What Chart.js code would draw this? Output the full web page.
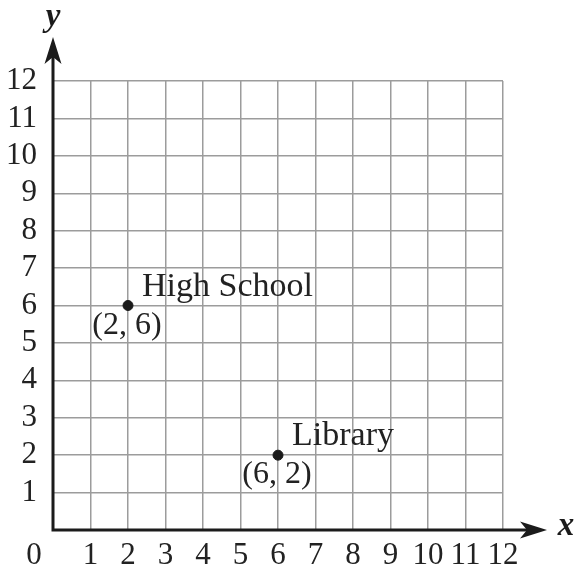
<!DOCTYPE html>
<html>
<head>
<meta charset="utf-8">
<script src="https://cdn.jsdelivr.net/npm/chart.js@4/dist/chart.umd.min.js"></script>
<style>
  html, body { margin: 0; padding: 0; background: #fff; }
  canvas { display: block; }
</style>
</head>
<body>
<canvas id="map" width="577" height="571"></canvas>
<script>
  const axisMin = 0;
  const axisMax = 12;
  const places = ["High School", "Library"];
  const placeX = [2, 6];
  const placeY = [6, 2];

  const serif = "'Liberation Serif', 'DejaVu Serif', serif";
  const ink = "#1b1b1b";
  const gridGray = "#9c9c9c";

  const tickFont = { family: serif, size: 31 };
  const hideZero = (value) => (value === 0 ? "" : value);

  // axes with arrowheads, axis letters and the shared origin label
  const axesPlugin = {
    id: "axes",
    beforeDatasetsDraw(chart) {
      const { ctx, scales } = chart;
      const x0 = scales.x.getPixelForValue(0);
      const y0 = scales.y.getPixelForValue(0);
      const tipX = scales.x.getPixelForValue(axisMax) + 44;
      const tipY = scales.y.getPixelForValue(axisMax) - 44;

      ctx.save();
      ctx.strokeStyle = ink;
      ctx.fillStyle = ink;
      ctx.lineWidth = 3;
      ctx.lineCap = "butt";

      ctx.beginPath();
      ctx.moveTo(x0 - 1.5, y0);
      ctx.lineTo(tipX - 20, y0);
      ctx.moveTo(x0, y0 + 1.5);
      ctx.lineTo(x0, tipY + 20);
      ctx.stroke();

      ctx.beginPath();
      ctx.moveTo(tipX, y0);
      ctx.lineTo(tipX - 27, y0 - 8.5);
      ctx.lineTo(tipX - 20, y0);
      ctx.lineTo(tipX - 27, y0 + 8.5);
      ctx.closePath();
      ctx.fill();

      ctx.beginPath();
      ctx.moveTo(x0, tipY);
      ctx.lineTo(x0 - 8.5, tipY + 27);
      ctx.lineTo(x0, tipY + 20);
      ctx.lineTo(x0 + 8.5, tipY + 27);
      ctx.closePath();
      ctx.fill();

      ctx.textAlign = "center";
      ctx.textBaseline = "middle";
      ctx.font = `bold italic 33px ${serif}`;
      ctx.fillText("x", tipX + 19, y0 - 4);
      ctx.fillText("y", x0, tipY - 20);

      ctx.font = `31px ${serif}`;
      ctx.fillStyle = "#222";
      ctx.fillText("0", x0 - 19, y0 + 26);
      ctx.restore();
    },
    afterDatasetsDraw(chart) {
      const { ctx } = chart;
      const meta = chart.getDatasetMeta(0);
      ctx.save();
      ctx.fillStyle = "#222";
      meta.data.forEach((pt, i) => {
        ctx.font = `34px ${serif}`;
        ctx.textAlign = "left";
        ctx.textBaseline = "alphabetic";
        ctx.fillText(places[i], pt.x + 14, pt.y - 10);
        ctx.font = `32px ${serif}`;
        ctx.textAlign = "center";
        ctx.fillText(`(${placeX[i]}, ${placeY[i]})`, pt.x - 1, pt.y + 28);
      });
      ctx.restore();
    },
  };

  new Chart(document.getElementById("map"), {
    type: "scatter",
    data: {
      datasets: [
        {
          data: placeX.map((x, i) => ({ x, y: placeY[i] })),
          backgroundColor: ink,
          borderColor: ink,
          pointRadius: 5,
          pointHoverRadius: 5,
        },
      ],
    },
    options: {
      responsive: false,
      animation: false,
      events: [],
      layout: { padding: { top: 81, right: 74, left: 0, bottom: 0 } },
      plugins: {
        legend: { display: false },
        tooltip: { enabled: false },
      },
      scales: {
        x: {
          type: "linear",
          min: axisMin,
          max: axisMax,
          afterFit: (scale) => { scale.height = 41; },
          ticks: {
            stepSize: 1,
            autoSkip: false,
            maxRotation: 0,
            padding: 7,
            color: "#222",
            font: tickFont,
            callback: hideZero,
          },
          grid: { color: gridGray, lineWidth: 1.5, drawTicks: false },
          border: { display: false },
        },
        y: {
          type: "linear",
          min: axisMin,
          max: axisMax,
          afterFit: (scale) => { scale.width = 53; },
          ticks: {
            stepSize: 1,
            autoSkip: false,
            padding: 16,
            color: "#222",
            font: tickFont,
            callback: hideZero,
          },
          grid: { color: gridGray, lineWidth: 1.5, drawTicks: false },
          border: { display: false },
        },
      },
    },
    plugins: [axesPlugin],
  });
</script>
</body>
</html>
